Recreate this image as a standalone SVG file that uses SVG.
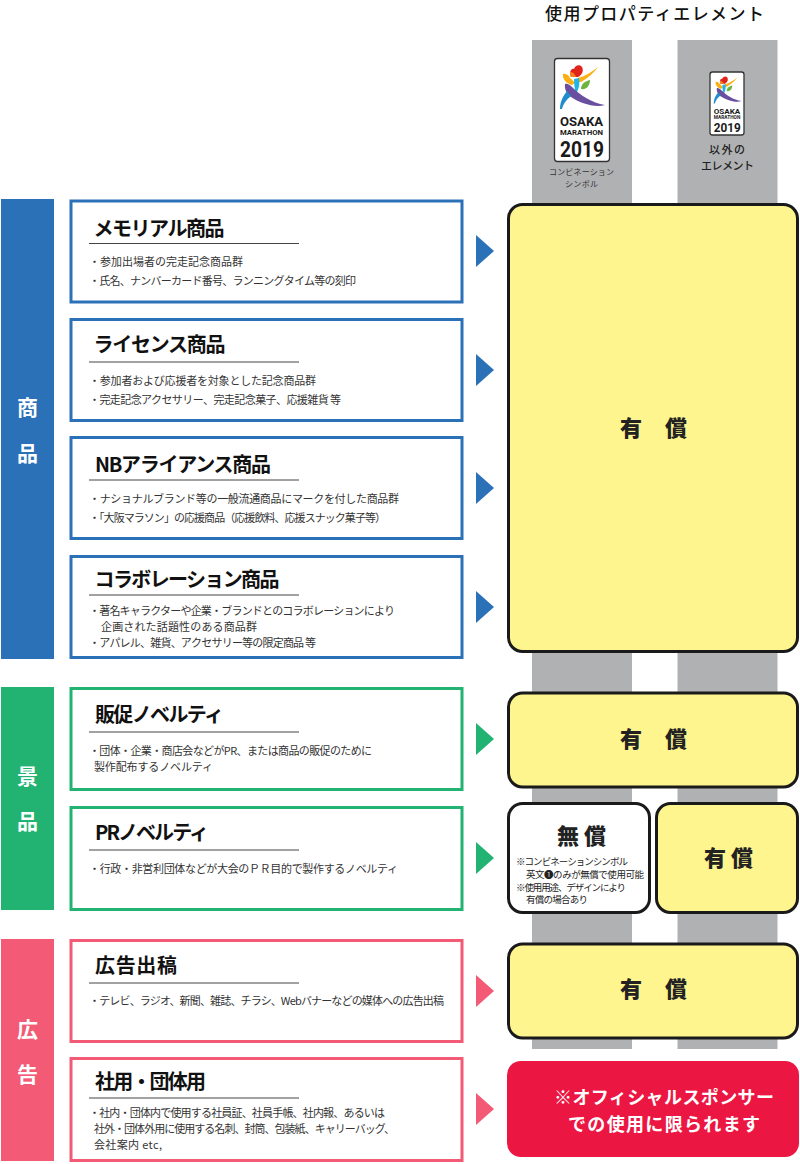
<svg xmlns="http://www.w3.org/2000/svg" width="800" height="1164" viewBox="0 0 800 1164">
<style>
text{font-family:"Noto Sans CJK JP","Noto Sans",sans-serif;fill:#222}
.card{fill:#fff;stroke-width:3}
.blue{stroke:#2a71b8}.green{stroke:#22b373}.pink{stroke:#f25a75}
.fblue{fill:#2a71b8}.fgreen{fill:#22b373}.fpink{fill:#f25a75}
.rule{stroke:#444;stroke-width:1}
.t{font-size:20px;font-weight:700;fill:#111}
.b{font-size:11px;fill:#333}
.side{font-size:21px;font-weight:700;fill:#fff;text-anchor:middle}
.col{fill:#b0b1b3}
.box{fill:#fff58f;stroke:#1a1a1a;stroke-width:3}
.fee{font-size:22px;font-weight:900;fill:#222}
.n{font-size:9.5px;fill:#222}
.logo{fill:#fff;stroke:#333;stroke-width:1.3}
.lt{font-family:"Roboto","Liberation Sans",sans-serif;font-weight:700;fill:#1a1a1a}
</style>
<defs>
<g id="figure">
<path d="M571 77C569 72 571 68 574 69C575 65 580 64 582 67C584 71 582 75 578 77Z" fill="#e2231a"/>
<path d="M570 72C573 72 575 74 576 77L571 77C570 75 570 74 570 72Z" fill="#f58220"/>
<path d="M563 74C567 73 569 76 570 78C572 80 574 81 575 83L572 85C567 84 562 79 563 74Z" fill="#fbb116"/>
<path d="M578 78C585 76 592 72 598 67C594 73 588 78 581 82L578 82Z" fill="#fbb116"/>
<path d="M574 79L579 78C580 83 579 88 577 92C577 94 578 96 578 98C575 94 574 84 574 79Z" fill="#1fb5e6"/>
<path d="M581 89C581 84 585 81 590 80C590 85 587 90 581 89Z" fill="#6cb33f"/>
<path d="M565 84C567 83 570 85 572 87C580 95 592 103 605 105C594 108 580 103 571 97C568 95 564 90 565 84Z" fill="#6a4fa0"/>
<path d="M567 91L571 96C566 100 563 104 562 109L560 109C560 102 563 96 567 91Z" fill="#1f8ccb"/>
</g>
</defs>

<g id="columns">
<rect class="col" x="532" y="40" width="100" height="1009"/>
<rect class="col" x="677.500" y="40" width="100" height="1009"/>
</g>

<text id="header" x="545" y="20" textLength="219" style="font-size:17px;font-weight:500;fill:#111">使用プロパティエレメント</text>

<g id="symbol-combination">
<rect class="logo" x="554.500" y="58.500" width="55" height="103" rx="3"/>
<use href="#figure"/>
<text class="lt" x="560" y="126" textLength="43" lengthAdjust="spacingAndGlyphs" style="font-size:12.500px">OSAKA</text>
<text class="lt" x="560" y="134.800" textLength="43" lengthAdjust="spacingAndGlyphs" style="font-size:7.500px">MARATHON</text>
<text class="lt" x="560" y="157" textLength="44" lengthAdjust="spacingAndGlyphs" style="font-size:22px">2019</text>
<text x="549" y="175" textLength="65" style="font-size:8px;fill:#333">コンビネーション</text>
<text x="565" y="186.600" textLength="33" style="font-size:8px;fill:#333">シンボル</text>
</g>

<g id="symbol-other">
<rect class="logo" x="710" y="72" width="34" height="63" rx="2.500"/>
<use href="#figure" transform="translate(366.500 36) scale(.62)"/>
<text class="lt" x="713.800" y="113.500" textLength="26.500" lengthAdjust="spacingAndGlyphs" style="font-size:7.800px">OSAKA</text>
<text class="lt" x="713.800" y="118.800" textLength="26.500" lengthAdjust="spacingAndGlyphs" style="font-size:4.500px">MARATHON</text>
<text class="lt" x="713.800" y="132.300" textLength="27" lengthAdjust="spacingAndGlyphs" style="font-size:13.500px">2019</text>
<text x="709" y="154" textLength="36" style="font-size:11px;font-weight:500;fill:#222">以外の</text>
<text x="701" y="170" textLength="53" style="font-size:11px;font-weight:500;fill:#222">エレメント</text>
</g>

<g id="cat-shohin"><rect class="fblue" x="1" y="199" width="53" height="460"/><text class="side" x="27.500" y="415">商</text><text class="side" x="27.500" y="461">品</text></g>
<g id="cat-keihin"><rect class="fgreen" x="1" y="687" width="53" height="223"/><text class="side" x="27.500" y="784">景</text><text class="side" x="27.500" y="829">品</text></g>
<g id="cat-kokoku"><rect class="fpink" x="1" y="939" width="53" height="222"/><text class="side" x="27.500" y="1037">広</text><text class="side" x="27.500" y="1082">告</text></g>

<g id="card-memorial"><rect class="card blue" x="71" y="201" width="391" height="101"/><text class="t" x="93.500" y="235.500" textLength="131">メモリアル商品</text><line class="rule" x1="89" x2="299" y1="243.500" y2="243.500"/>
<text class="b" x="89" y="266" textLength="154">・参加出場者の完走記念商品群</text><text class="b" x="89" y="285" textLength="267">・氏名、ナンバーカード番号、ランニングタイム等の刻印</text></g>

<g id="card-license"><rect class="card blue" x="71" y="319.500" width="391" height="101"/><text class="t" x="93.500" y="352" textLength="132">ライセンス商品</text><line class="rule" x1="89" x2="299" y1="362" y2="362"/>
<text class="b" x="89" y="385" textLength="227">・参加者および応援者を対象とした記念商品群</text><text class="b" x="89" y="404" textLength="252">・完走記念アクセサリー、完走記念菓子、応援雑貨 等</text></g>

<g id="card-nb"><rect class="card blue" x="71" y="437.500" width="391" height="101"/><text class="t" x="95" y="471.500" textLength="176">NBアライアンス商品</text><line class="rule" x1="89" x2="299" y1="480" y2="480"/>
<text class="b" x="89" y="503" textLength="310">・ナショナルブランド等の一般流通商品にマークを付した商品群</text><text class="b" x="89" y="522" textLength="297">・「大阪マラソン」の応援商品（応援飲料、応援スナック菓子等）</text></g>

<g id="card-collab"><rect class="card blue" x="71" y="556.500" width="391" height="101"/><text class="t" x="94.500" y="587" textLength="185">コラボレーション商品</text><line class="rule" x1="89" x2="299" y1="595" y2="595"/>
<text class="b" x="89" y="615" textLength="306">・著名キャラクターや企業・ブランドとのコラボレーションにより</text><text class="b" x="101" y="631" textLength="156">企画された話題性のある商品群</text><text class="b" x="89" y="647" textLength="227">・アパレル、雑貨、アクセサリー等の限定商品 等</text></g>

<g id="card-hansoku"><rect class="card green" x="71" y="688.500" width="391" height="101"/><text class="t" x="95" y="722" textLength="129">販促ノベルティ</text><line class="rule" x1="89" x2="299" y1="732" y2="732"/>
<text class="b" x="89" y="755" textLength="283">・団体・企業・商店会などがPR、または商品の販促のために</text><text class="b" x="94" y="771" textLength="119">製作配布するノベルティ</text></g>

<g id="card-pr"><rect class="card green" x="71" y="807.500" width="391" height="102"/><text class="t" x="95" y="840" textLength="114">PRノベルティ</text><line class="rule" x1="89" x2="299" y1="850" y2="850"/>
<text class="b" x="89" y="873" textLength="309">・行政・非営利団体などが大会のＰＲ目的で製作するノベルティ</text></g>

<g id="card-ad"><rect class="card pink" x="71" y="940.500" width="391" height="101"/><text class="t" x="95" y="973" textLength="82">広告出稿</text><line class="rule" x1="89" x2="299" y1="983" y2="983"/>
<text class="b" x="89" y="1005" textLength="355">・テレビ、ラジオ、新聞、雑誌、チラシ、Webバナーなどの媒体への広告出稿</text></g>

<g id="card-corp"><rect class="card pink" x="71" y="1058.500" width="391" height="102"/><text class="t" x="95" y="1089" textLength="111">社用・団体用</text><line class="rule" x1="89" x2="299" y1="1098" y2="1098"/>
<text class="b" x="89" y="1117" textLength="296">・社内・団体内で使用する社員証、社員手帳、社内報、あるいは</text><text class="b" x="94" y="1133" textLength="301">社外・団体外用に使用する名刺、封筒、包装紙、キャリーバッグ、</text><text class="b" x="94" y="1149" textLength="68">会社案内 etc,</text></g>

<g id="connectors">
<polygon class="fblue" points="476,235 494,251 476,267"/>
<polygon class="fblue" points="476,354 494,370 476,386"/>
<polygon class="fblue" points="476,472 494,488 476,504"/>
<polygon class="fblue" points="476,591 494,607 476,623"/>
<polygon class="fgreen" points="476,723 494,739 476,755"/>
<polygon class="fgreen" points="476,842 494,858 476,874"/>
<polygon class="fpink" points="476,975 494,991 476,1007"/>
<polygon class="fpink" points="476,1093 494,1109 476,1125"/>
</g>

<g id="fee-main"><rect class="box" x="508.500" y="204.500" width="289" height="447" rx="14"/><text class="fee" x="620" y="436" textLength="67">有　償</text></g>
<g id="fee-novelty"><rect class="box" x="508.500" y="693" width="289" height="94" rx="14"/><text class="fee" x="620" y="747" textLength="67">有　償</text></g>
<g id="fee-free"><rect x="508.500" y="803.500" width="141" height="109" rx="14" fill="#fff" stroke="#1a1a1a" stroke-width="3"/>
<text class="fee" x="557" y="844" textLength="49">無償</text>
<text class="n" x="516" y="865" textLength="112">※コンビネーションシンボル</text>
<text class="n" x="526" y="878" textLength="118">英文❶のみが無償で使用可能</text>
<text class="n" x="516" y="891" textLength="110">※使用用途、デザインにより</text>
<text class="n" x="526" y="903" textLength="62">有償の場合あり</text></g>
<g id="fee-paid"><rect class="box" x="656.500" y="803.500" width="141" height="109" rx="14"/><text class="fee" x="704" y="866" textLength="49">有償</text></g>
<g id="fee-ad"><rect class="box" x="508.500" y="944" width="289" height="94" rx="14"/><text class="fee" x="620" y="997" textLength="67">有　償</text></g>
<g id="fee-sponsor"><rect x="507" y="1061" width="292" height="96" rx="14" fill="#ec1642"/>
<text x="554" y="1104" textLength="220" style="font-size:18px;font-weight:700;fill:#fff">※オフィシャルスポンサー</text>
<text x="568" y="1130.500" textLength="192" style="font-size:18px;font-weight:700;fill:#fff">での使用に限られます</text></g>
</svg>
